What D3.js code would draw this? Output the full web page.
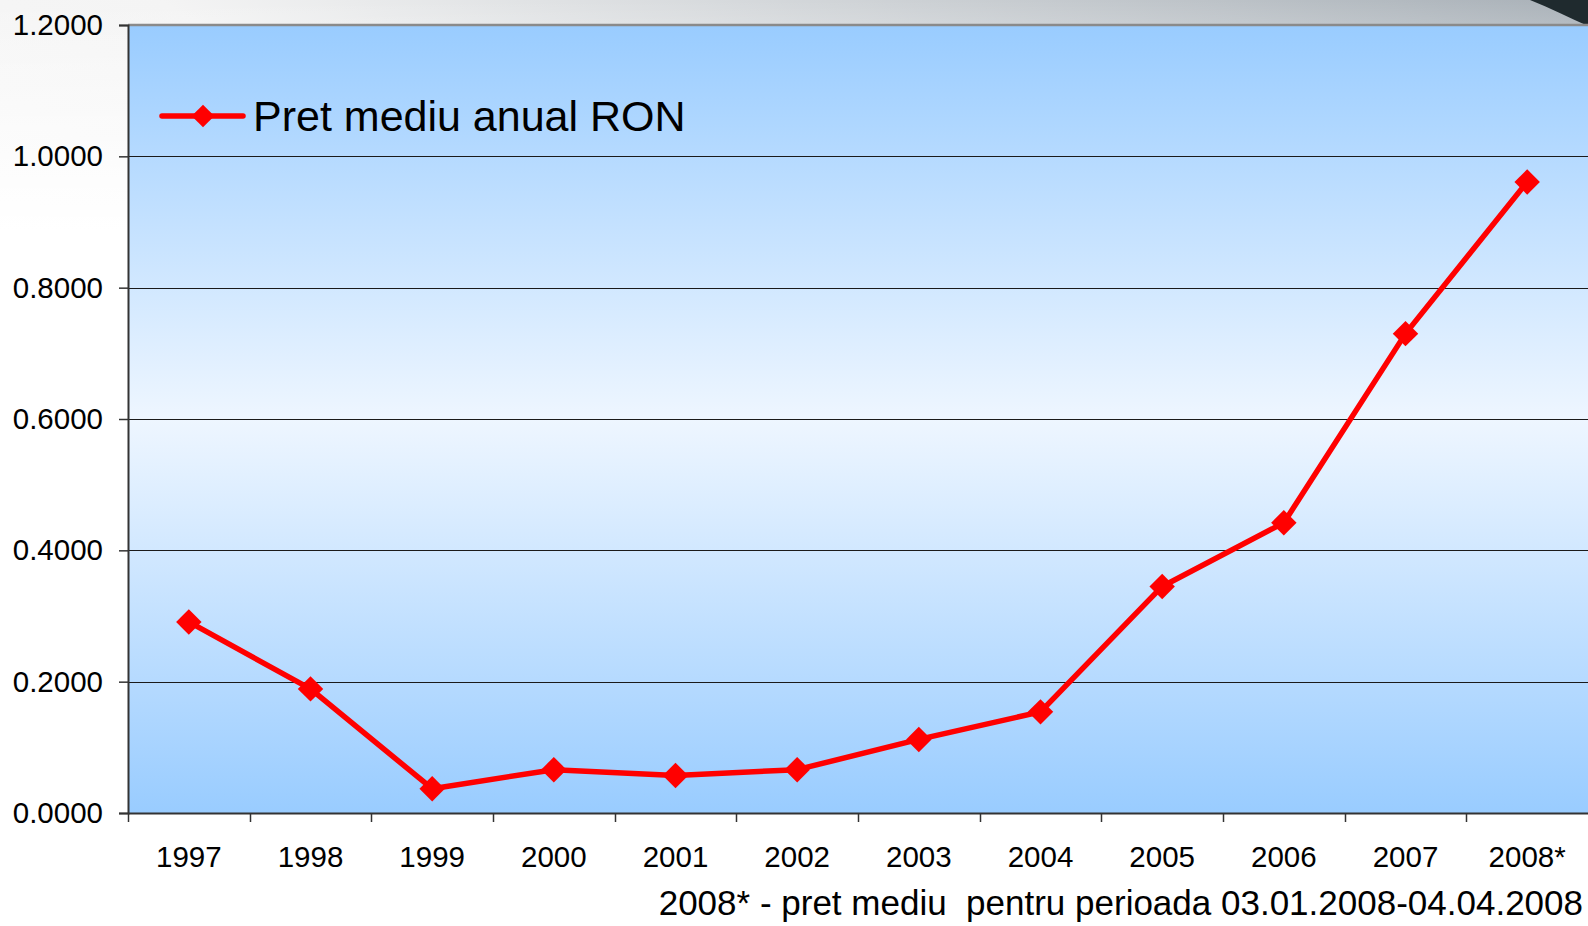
<!DOCTYPE html>
<html>
<head>
<meta charset="utf-8">
<script src="https://cdn.jsdelivr.net/npm/d3@7"></script>
<style>
  html, body { margin: 0; padding: 0; background: #fff; }
  svg { display: block; font-family: "Liberation Sans", Arial, sans-serif; }
</style>
</head>
<body>
<div id="root"></div>
<script>
// Chart data
const years = ["1997", "1998", "1999", "2000", "2001", "2002", "2003", "2004", "2005", "2006", "2007", "2008*"];
const prices = [0.291, 0.189, 0.037, 0.066, 0.057, 0.066, 0.112, 0.154, 0.345, 0.442, 0.730, 0.961];
const yTicks = [0, 0.2, 0.4, 0.6, 0.8, 1.0, 1.2];
const seriesName = "Pret mediu anual RON";
const footnote = "2008* - pret mediu  pentru perioada 03.01.2008-04.04.2008";

// Size
const width = 1588;
const height = 926;
const margin = { top: 25, right: 0, bottom: 113, left: 128 };

const svg = d3.select("#root")
  .append("svg")
  .attr("width", width)
  .attr("height", height);

const defs = svg.append("defs");

// page background: white fading to grey toward top right
const pageGrad = defs.append("linearGradient")
  .attr("id", "pageGrad")
  .attr("x1", "0").attr("y1", "1")
  .attr("x2", "1").attr("y2", "0");
pageGrad.append("stop").attr("offset", "0").attr("stop-color", "#ffffff");
pageGrad.append("stop").attr("offset", "0.55").attr("stop-color", "#f4f4f4");
pageGrad.append("stop").attr("offset", "1").attr("stop-color", "#a9b1b8");

svg.append("rect")
  .attr("width", width)
  .attr("height", height)
  .attr("fill", "url(#pageGrad)");

// the white lower area
const fadeGrad = defs.append("linearGradient")
  .attr("id", "fadeGrad")
  .attr("x1", "0").attr("y1", "0")
  .attr("x2", "0").attr("y2", "1");
fadeGrad.append("stop").attr("offset", "0").attr("stop-color", "#fff").attr("stop-opacity", 0);
fadeGrad.append("stop").attr("offset", "0.25").attr("stop-color", "#fff").attr("stop-opacity", 1);
svg.append("rect")
  .attr("y", 0)
  .attr("width", width)
  .attr("height", height)
  .attr("fill", "url(#fadeGrad)");

// dark decoration in the top-right corner
svg.append("path")
  .attr("d", "M1530,0 C1550,8 1570,18 1588,26 L1588,0 Z")
  .attr("fill", "#1f2a2e");

// plot area gradient (blue - near white - blue)
const plotGrad = defs.append("linearGradient")
  .attr("id", "plotGrad")
  .attr("x1", "0").attr("y1", "0")
  .attr("x2", "0").attr("y2", "1");
plotGrad.append("stop").attr("offset", "0").attr("stop-color", "#99ccff");
plotGrad.append("stop").attr("offset", "0.5").attr("stop-color", "#eef6ff");
plotGrad.append("stop").attr("offset", "1").attr("stop-color", "#99ccff");

// Scales
const xScale = d3.scaleBand()
  .domain(years)
  .range([margin.left, width - margin.right]);

const yScale = d3.scaleLinear()
  .domain([0, 1.2])
  .range([height - margin.bottom, margin.top]);

svg.append("rect")
  .attr("x", margin.left)
  .attr("y", margin.top)
  .attr("width", width - margin.right - margin.left)
  .attr("height", yScale(0) - margin.top)
  .attr("fill", "url(#plotGrad)");

// Gridlines
svg.append("g")
  .selectAll("line")
  .data(yTicks.filter(d => d > 0 && d < 1.2))
  .enter()
  .append("line")
  .attr("x1", margin.left)
  .attr("x2", width - margin.right)
  .attr("y1", d => Math.round(yScale(d)) + 0.5)
  .attr("y2", d => Math.round(yScale(d)) + 0.5)
  .attr("stroke", "#1a1a1a")
  .attr("stroke-width", 1);

// top border of the plot
svg.append("line")
  .attr("x1", margin.left)
  .attr("x2", width)
  .attr("y1", yScale(1.2))
  .attr("y2", yScale(1.2))
  .attr("stroke", "#8a8a8a")
  .attr("stroke-width", 2.5);

// Axes
const yAxis = d3.axisLeft(yScale)
  .tickValues(yTicks)
  .tickFormat(d3.format(".4f"))
  .tickSize(9)
  .tickPadding(16);

const yAxisG = svg.append("g")
  .attr("transform", "translate(" + margin.left + ",0)")
  .call(yAxis);

const xAxis = d3.axisBottom(xScale)
  .tickSize(0)
  .tickPadding(33);

const xAxisG = svg.append("g")
  .attr("transform", "translate(0," + yScale(0) + ")")
  .call(xAxis);

// x ticks sit on band boundaries
svg.append("g")
  .selectAll("line")
  .data(years)
  .enter()
  .append("line")
  .attr("x1", d => Math.round(xScale(d)) + 0.5)
  .attr("x2", d => Math.round(xScale(d)) + 0.5)
  .attr("y1", yScale(0))
  .attr("y2", yScale(0) + 9)
  .attr("stroke", "#333")
  .attr("stroke-width", 1.5);

[yAxisG, xAxisG].forEach(g => {
  g.selectAll("text")
    .attr("font-family", "'Liberation Sans', Arial, sans-serif")
    .attr("font-size", 29.5)
    .attr("fill", "#000");
  g.select(".domain").attr("stroke", "#333").attr("stroke-width", 2);
  g.selectAll(".tick line").attr("stroke", "#333").attr("stroke-width", 1.5);
});

// Line
const line = d3.line()
  .x((d, i) => xScale(years[i]) + xScale.bandwidth() / 2)
  .y(d => yScale(d));

svg.append("path")
  .datum(prices)
  .attr("fill", "none")
  .attr("stroke", "#ff0000")
  .attr("stroke-width", 5.5)
  .attr("stroke-linejoin", "round")
  .attr("d", line);

const diamond = d3.symbol().type(d3.symbolSquare).size(18 * 18);

svg.append("g")
  .selectAll("path")
  .data(prices)
  .enter()
  .append("path")
  .attr("d", diamond)
  .attr("transform", (d, i) =>
    "translate(" + (xScale(years[i]) + xScale.bandwidth() / 2) + "," + yScale(d) + ") rotate(45)")
  .attr("fill", "#ff0000");

// Legend
const legend = svg.append("g").attr("transform", "translate(162,116)");
legend.append("line")
  .attr("x1", 0).attr("x2", 81)
  .attr("y1", 0).attr("y2", 0)
  .attr("stroke", "#ff0000")
  .attr("stroke-width", 5.5)
  .attr("stroke-linecap", "round");
legend.append("path")
  .attr("d", d3.symbol().type(d3.symbolSquare).size(16 * 16))
  .attr("transform", "translate(41,0) rotate(45)")
  .attr("fill", "#ff0000");
legend.append("text")
  .attr("x", 91)
  .attr("y", 15)
  .attr("font-size", 43)
  .attr("fill", "#000")
  .text(seriesName);

// Footnote
svg.append("text")
  .attr("x", 1583)
  .attr("y", 915)
  .attr("text-anchor", "end")
  .attr("font-size", 35)
  .attr("fill", "#000")
  .style("white-space", "pre")
  .text(footnote);
</script>
</body>
</html>
